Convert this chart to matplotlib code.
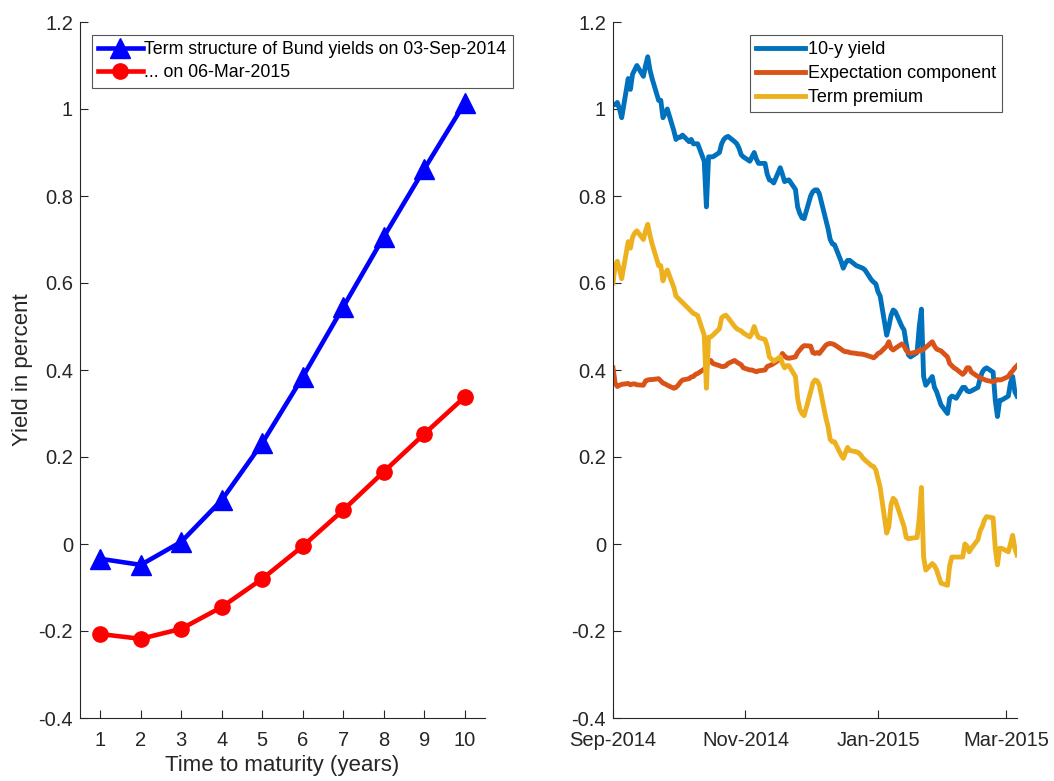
import matplotlib
matplotlib.use('Agg')
import matplotlib.pyplot as plt
import matplotlib.dates as mdates
from matplotlib.ticker import FuncFormatter
import pandas as pd

plt.rcParams['font.family'] = ['Liberation Sans', 'DejaVu Sans']

# left panel: term structure on two dates
maturity = [1, 2, 3, 4, 5, 6, 7, 8, 9, 10]
yields_sep14 = [-0.034, -0.048, 0.005, 0.101, 0.232, 0.384, 0.545, 0.706, 0.862, 1.014]
yields_mar15 = [-0.207, -0.218, -0.195, -0.145, -0.080, -0.005, 0.078, 0.166, 0.253, 0.338]

# right panel: daily decomposition of the 10-year yield (business days)
dates = pd.bdate_range('2014-09-01', '2015-03-06')

ten_y_yield = [
    # Sep 2014
    1.01, 1.01, 1.015, 1.00, 0.98, 1.07, 1.045, 1.08, 1.09, 1.10,
    1.075, 1.10, 1.12, 1.09, 1.07, 1.02, 1.02, 0.98, 0.99, 1.00,
    0.95, 0.93,
    # Oct 2014
    0.935, 0.935, 0.94, 0.925, 0.93, 0.92, 0.92, 0.92, 0.88, 0.775,
    0.89, 0.89, 0.89, 0.90, 0.92, 0.93, 0.935, 0.937, 0.925, 0.92,
    0.91, 0.895, 0.89,
    # Nov 2014
    0.88, 0.89, 0.90, 0.885, 0.875, 0.875, 0.85, 0.837, 0.835, 0.83,
    0.865, 0.85, 0.833, 0.836, 0.837, 0.815, 0.775, 0.76, 0.75, 0.748,
    # Dec 2014
    0.80, 0.81, 0.814, 0.814, 0.805, 0.745, 0.725, 0.70, 0.69, 0.688,
    0.65, 0.634, 0.645, 0.652, 0.652, 0.64, 0.638, 0.636, 0.634, 0.63,
    0.607, 0.602, 0.598,
    # Jan 2015
    0.58, 0.57, 0.48, 0.50, 0.525, 0.538, 0.534, 0.50, 0.492, 0.46,
    0.435, 0.43, 0.44, 0.50, 0.54, 0.385, 0.365, 0.385, 0.36, 0.35,
    0.335, 0.32,
    # Feb 2015
    0.30, 0.335, 0.34, 0.338, 0.335, 0.36, 0.36, 0.352, 0.35, 0.352,
    0.36, 0.38, 0.395, 0.402, 0.405, 0.395, 0.33, 0.293, 0.33, 0.331,
    # Mar 2015
    0.34, 0.37, 0.385, 0.35, 0.34,
]

expectation = [
    # Sep 2014
    0.405, 0.37, 0.362, 0.365, 0.367, 0.369, 0.366, 0.368, 0.368, 0.366,
    0.365, 0.375, 0.377, 0.378, 0.378, 0.38, 0.375, 0.37, 0.368, 0.365,
    0.358, 0.36,
    # Oct 2014
    0.365, 0.372, 0.377, 0.38, 0.384, 0.385, 0.39, 0.392, 0.402, 0.41,
    0.418, 0.422, 0.415, 0.41, 0.408, 0.408, 0.41, 0.415, 0.422, 0.418,
    0.415, 0.412, 0.405,
    # Nov 2014
    0.40, 0.40, 0.398, 0.396, 0.398, 0.40, 0.408, 0.41, 0.412, 0.415,
    0.425, 0.438, 0.432, 0.428, 0.427, 0.43, 0.44, 0.446, 0.452, 0.456,
    # Dec 2014
    0.455, 0.44, 0.438, 0.44, 0.438, 0.457, 0.46, 0.461, 0.46, 0.458,
    0.448, 0.444, 0.442, 0.442, 0.44, 0.438, 0.437, 0.437, 0.436, 0.435,
    0.43, 0.428, 0.432,
    # Jan 2015
    0.438, 0.44, 0.455, 0.465, 0.45, 0.446, 0.45, 0.46, 0.455, 0.445,
    0.44, 0.438, 0.442, 0.446, 0.444, 0.448, 0.452, 0.465, 0.455, 0.448,
    0.446, 0.444,
    # Feb 2015
    0.43, 0.415, 0.41, 0.405, 0.402, 0.39, 0.395, 0.405, 0.405, 0.395,
    0.385, 0.383, 0.38, 0.378, 0.376, 0.373, 0.375, 0.378, 0.377, 0.378,
    # Mar 2015
    0.385, 0.393, 0.398, 0.405, 0.41,
]

term_premium = [
    # Sep 2014
    0.60, 0.64, 0.65, 0.63, 0.61, 0.695, 0.68, 0.705, 0.715, 0.72,
    0.70, 0.72, 0.735, 0.71, 0.69, 0.64, 0.64, 0.605, 0.62, 0.63,
    0.59, 0.57,
    # Oct 2014
    0.565, 0.56, 0.555, 0.54, 0.535, 0.53, 0.528, 0.525, 0.48, 0.358,
    0.475, 0.476, 0.48, 0.495, 0.52, 0.524, 0.526, 0.52, 0.50, 0.495,
    0.492, 0.49, 0.485,
    # Nov 2014
    0.476, 0.485, 0.50, 0.485, 0.475, 0.47, 0.455, 0.43, 0.425, 0.42,
    0.43, 0.415, 0.405, 0.41, 0.41, 0.385, 0.335, 0.31, 0.30, 0.295,
    # Dec 2014
    0.35, 0.37, 0.377, 0.375, 0.365, 0.29, 0.27, 0.24, 0.235, 0.235,
    0.205, 0.197, 0.21, 0.222, 0.215, 0.212, 0.21, 0.205, 0.198, 0.193,
    0.18, 0.178, 0.17,
    # Jan 2015
    0.15, 0.13, 0.025, 0.04, 0.09, 0.105, 0.10, 0.055, 0.04, 0.015,
    0.012, 0.013, 0.015, 0.06, 0.13, -0.03, -0.06, -0.045, -0.05, -0.06,
    -0.075, -0.09,
    # Feb 2015
    -0.095, -0.05, -0.03, -0.03, -0.03, -0.03, 0.0, -0.005, -0.018, -0.01,
    0.01, 0.03, 0.04, 0.055, 0.063, 0.06, -0.01, -0.048, -0.01, -0.01,
    # Mar 2015
    -0.018, 0.0, 0.02, -0.01, -0.025,
]

axis_col = '#262626'
fmt = FuncFormatter(lambda v, p: '%g' % round(v, 2))

fig = plt.figure(figsize=(10.54, 7.81), dpi=100)
ax1 = fig.add_axes([80 / 1054, 63 / 781, 405 / 1054, 696 / 781])
ax2 = fig.add_axes([613 / 1054, 63 / 781, 404 / 1054, 696 / 781])

for ax in (ax1, ax2):
    ax.set_ylim(-0.4, 1.2)
    ax.set_yticks([-0.4, -0.2, 0, 0.2, 0.4, 0.6, 0.8, 1.0, 1.2])
    ax.yaxis.set_major_formatter(fmt)
    ax.spines['top'].set_visible(False)
    ax.spines['right'].set_visible(False)
    for s in ('left', 'bottom'):
        ax.spines[s].set_color(axis_col)
        ax.spines[s].set_linewidth(0.8)
    ax.tick_params(direction='in', length=6, width=0.8, colors=axis_col,
                   labelsize=14.5)
    ax.tick_params(axis='y', pad=5)
    ax.tick_params(axis='x', pad=9)

# left panel
ax1.plot(maturity, yields_sep14, color='blue', lw=3.3, marker='^', ms=14,
         label='Term structure of Bund yields on 03-Sep-2014')
ax1.plot(maturity, yields_mar15, color='red', lw=3.3, marker='o', ms=11,
         label='... on 06-Mar-2015')
ax1.set_xlim(0.5, 10.5)
ax1.set_xticks(maturity)
ax1.set_xlabel('Time to maturity (years)', fontsize=16, color=axis_col, labelpad=4)
ax1.set_ylabel('Yield in percent', fontsize=16, color=axis_col, labelpad=4)
leg1 = ax1.legend(loc='upper left', bbox_to_anchor=(92 / 1054, 1 - 35 / 781),
                  bbox_transform=fig.transFigure, fontsize=12.8, handlelength=2.5,
                  handletextpad=0.1, borderpad=0.35, labelspacing=0.35,
                  borderaxespad=0, fancybox=False, framealpha=1)
leg1.get_frame().set_edgecolor('#555555')
leg1.get_frame().set_linewidth(0.8)

# right panel
ax2.plot(dates, ten_y_yield, color='#0072BD', lw=3.5, label='10-y yield')
ax2.plot(dates, expectation, color='#D95319', lw=3.5, label='Expectation component')
ax2.plot(dates, term_premium, color='#EDB120', lw=3.5, label='Term premium')
ax2.set_xlim(dates[0], dates[-1])
ax2.set_xticks(pd.to_datetime(['2014-09-01', '2014-11-01', '2015-01-01', '2015-03-01']))
ax2.xaxis.set_major_formatter(mdates.DateFormatter('%b-%Y'))
leg2 = ax2.legend(loc='upper left', bbox_to_anchor=(750 / 1054, 1 - 35 / 781),
                  bbox_transform=fig.transFigure, fontsize=13, handlelength=2.7,
                  handletextpad=0.15, borderpad=0.35, labelspacing=0.38,
                  borderaxespad=0, fancybox=False, framealpha=1)
leg2.get_frame().set_edgecolor('#555555')
leg2.get_frame().set_linewidth(0.8)

fig.savefig('out.png', dpi=100)
